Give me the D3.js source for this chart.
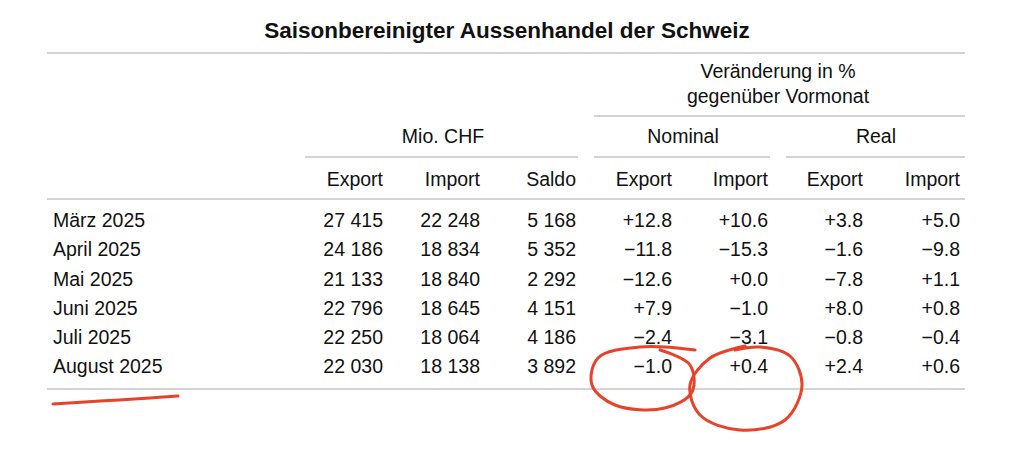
<!DOCTYPE html>
<html><head><meta charset="utf-8">
<script src="https://cdn.jsdelivr.net/npm/d3@7"></script>
<style>body{margin:0;background:#fff}svg{font-family:"Liberation Sans",Arial,sans-serif}</style>
</head><body><svg id="c" width="1024" height="464"></svg>
<script>
const title = "Saisonbereinigter Aussenhandel der Schweiz";
const months = ["März 2025","April 2025","Mai 2025","Juni 2025","Juli 2025","August 2025"];
const columns = ["Export","Import","Saldo","Export","Import","Export","Import"];
const exportChf = ["27 415","24 186","21 133","22 796","22 250","22 030"];
const importChf = ["22 248","18 834","18 840","18 645","18 064","18 138"];
const saldoChf  = ["5 168","5 352","2 292","4 151","4 186","3 892"];
const nomExport = ["+12.8","−11.8","−12.6","+7.9","−2.4","−1.0"];
const nomImport = ["+10.6","−15.3","+0.0","−1.0","−3.1","+0.4"];
const realExport= ["+3.8","−1.6","−7.8","+8.0","−0.8","+2.4"];
const realImport= ["+5.0","−9.8","+1.1","+0.8","−0.4","+0.6"];
const series=[exportChf,importChf,saldoChf,nomExport,nomImport,realExport,realImport];

const svg=d3.select("#c");
const colX=[383,480,576,672,768,863,960];
const y=d3.scalePoint().domain(months).range([222,368]);
const line=(x1,x2,yy)=>svg.append("line").attr("x1",x1).attr("x2",x2).attr("y1",yy).attr("y2",yy).attr("stroke","#aaa").attr("stroke-width",1.2);
const txt=(s,x,yy,anchor,opts={})=>svg.append("text").attr("x",x).attr("y",yy).attr("text-anchor",anchor).attr("font-size",opts.size||19.5).attr("font-weight",opts.bold?"bold":"normal").attr("fill","#111").attr("dominant-baseline","middle").text(s);

txt(title,507,32,"middle",{bold:true,size:22.5});
line(47,965,53);
txt("Veränderung in %",778,73,"middle");
txt("gegenüber Vormonat",778,98,"middle");
line(594,965,116);
txt("Mio. CHF",443,138,"middle");
txt("Nominal",683,138,"middle");
txt("Real",876,138,"middle");
line(305,578,157);line(594,770,157);line(786,965,157);
columns.forEach((c,i)=>txt(c,colX[i],181,"end"));
line(47,965,199);
months.forEach((m,r)=>{
  txt(m,53,y(m),"start");
  series.forEach((s,i)=>txt(s[r],colX[i],y(m),"end"));
});
line(47,965,389);

const red="#e8432a";
const curve=d3.line().curve(d3.curveCatmullRom);
svg.append("path").attr("d",curve([[53,404],[100,401],[150,398],[178,396]])).attr("fill","none").attr("stroke",red).attr("stroke-width",3).attr("stroke-linecap","round");
svg.append("path").attr("d",curve([[695,350],[640,347],[598,358],[592,385],[615,405],[665,408],[692,392],[690,365],[660,350]])).attr("fill","none").attr("stroke",red).attr("stroke-width",3).attr("stroke-linecap","round");
svg.append("path").attr("d",curve([[745,346],[710,358],[690,385],[700,415],[740,430],[785,420],[802,385],[790,356],[760,347],[735,350]])).attr("fill","none").attr("stroke",red).attr("stroke-width",3).attr("stroke-linecap","round");
</script></body></html>
